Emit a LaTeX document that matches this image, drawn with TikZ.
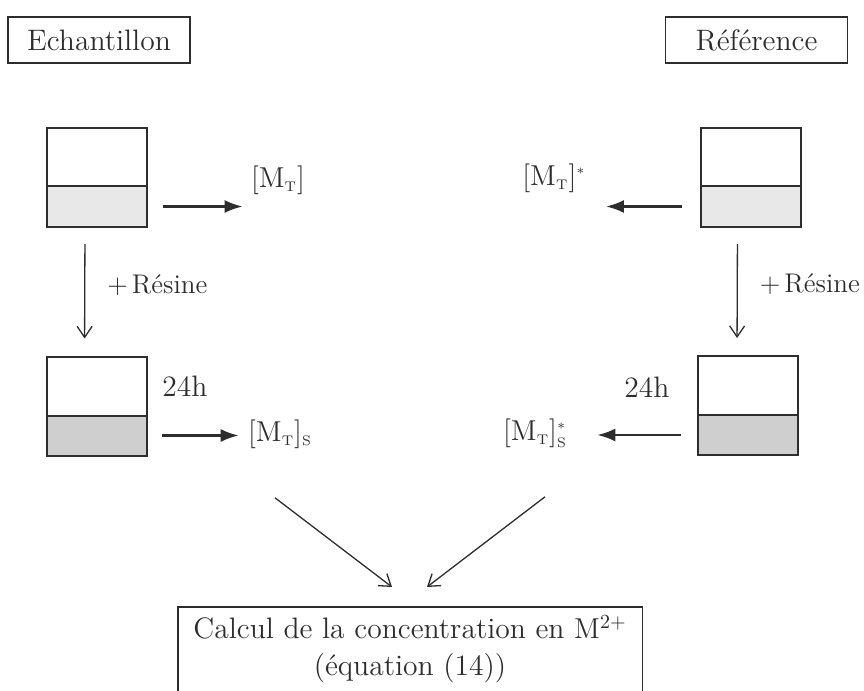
\documentclass[tikz,border=0pt]{standalone}
\usepackage{tikz}
\usetikzlibrary{positioning,arrows.meta}
\definecolor{inkgray}{RGB}{45,45,45}
\newcommand{\mT}{[\mathrm{M}_{\scriptscriptstyle\mathrm{T}}]}
\tikzset{
  lab/.style={draw=inkgray, line width=0.9pt, minimum width=91pt,
              minimum height=23pt, inner sep=2pt},
  vial/.style={draw=inkgray, line width=1pt, minimum width=50pt,
               minimum height=49.5pt, inner sep=0pt},
  liq/.style={vial, fill=gray!18, minimum height=20.5pt},
  liqd/.style={liq, fill=gray!38, minimum height=20pt},
  txt/.style={inner sep=2pt},
  resine/.style={txt, font=\fontsize{13.5}{16}\selectfont},
  ha/.style={-{Latex[length=9pt,width=6.5pt]}, inkgray, line width=1.2pt},
  va/.style={-{Straight Barb[length=5.5pt,width=7.5pt]}, inkgray, line width=0.65pt}
}

\begin{document}
\begin{tikzpicture}[x=0.5pt, y=-0.5pt, font=\fontsize{14.8}{18.5}\selectfont, text=inkgray]
  \useasboundingbox (0,0) rectangle (864,691);
  \clip (0,0) rectangle (864,691);
  \node[lab] (ech) at (99,40) {Echantillon};
  \node[lab] (ref) at (756.5,40) {Référence};
  % flacons
  \node[vial] (e1) at (97,177.5) {};
  \node[liq, anchor=south] (le1) at (e1.south) {};
  \node[vial] (e2) at (96.5,406) {};
  \node[liqd, anchor=south] (le2) at (e2.south) {};
  \node[vial] (r1) at (750.5,177.5) {};
  \node[liq, anchor=south] (lr1) at (r1.south) {};
  \node[vial] (r2) at (748,405.5) {};
  \node[liqd, anchor=south] (lr2) at (r2.south) {};
  % concentrations
  \node[txt] (mt) at (278,180) {$\mT$};
  \node[txt] (mts) at (280,434) {$\mT_{\scriptscriptstyle\mathrm{S}}$};
  \node[txt] (mtr) at (554,178) {$\mT^{\scriptscriptstyle *}$};
  \node[txt] (mtsr) at (535,433) {$\mT_{\scriptscriptstyle\mathrm{S}}^{\scriptscriptstyle *}$};
  \node[txt] (ta) at (185,386) {24h};
  \node[txt] (tb) at (647,387) {24h};
  \node[txt, anchor=north, minimum width=232pt, align=center, inner ysep=4pt] (calc) at (410,607)
    {Calcul de la concentration en $\mathrm{M}^{2+}$\\(équation (14))};
  \draw[draw=inkgray, line width=0.9pt] ([yshift=-20pt]calc.south west) -- (calc.north west)
    -- (calc.north east) -- ([yshift=-20pt]calc.south east);
  % fleches
  \draw[ha, shorten <=7.5pt, shorten >=2pt] (le1.east) -- (le1.east -| mt.west);
  \draw[ha, shorten <=7pt, shorten >=2.5pt] (le2.east) -- (le2.east -| mts.west);
  \draw[ha, shorten <=9pt, shorten >=8pt] (lr1.west) -- (lr1.west -| mtr.east);
  \draw[ha, shorten <=8pt, shorten >=13pt] (lr2.west) -- (lr2.west -| mtsr.east);
  \draw[va, shorten <=8pt, shorten >=8.5pt] ([xshift=-6pt]e1.south) -- ([xshift=-6pt]e2.north)
    node[resine, midway, right=9pt, yshift=3.5pt] {+\hspace{0.15em}Résine};
  \draw[va, shorten <=8pt, shorten >=8.5pt] ([xshift=-6.5pt]r1.south) -- ([xshift=-5.5pt]r2.north)
    node[resine, midway, right=9pt, yshift=3.5pt] {+\hspace{0.15em}Résine};
  \draw[va] ([xshift=-2.5pt,yshift=-22.5pt]mts.south) -- ([xshift=-9pt,yshift=10pt]calc.north);
  \draw[va] ([xshift=5pt,yshift=-22.5pt]mtsr.south) -- ([xshift=8.5pt,yshift=10pt]calc.north);
\end{tikzpicture}
\end{document}
